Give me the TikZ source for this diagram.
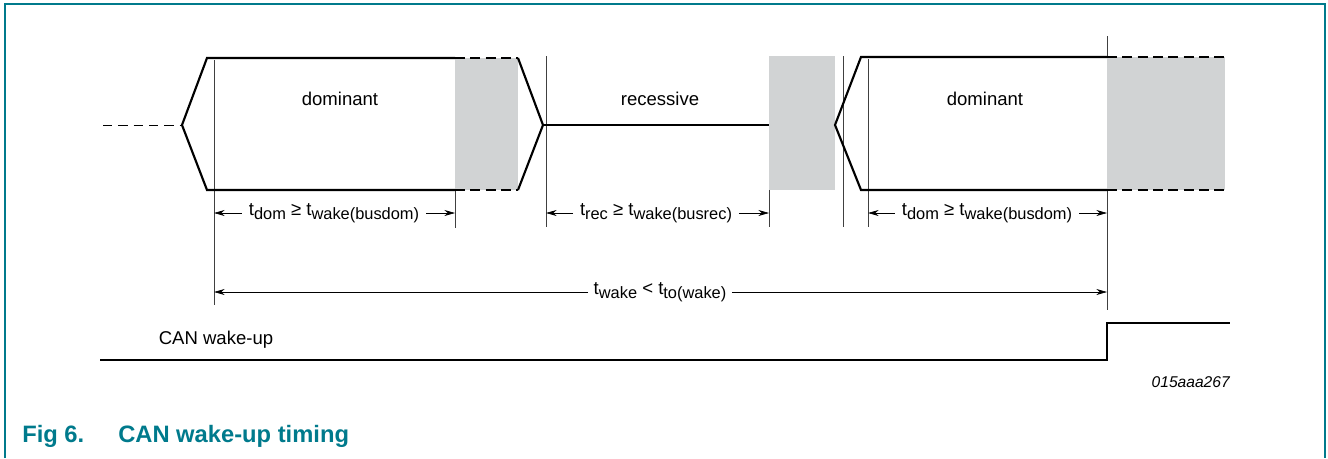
\documentclass[tikz,border=0pt]{standalone}
\usepackage{fontspec}
\setmainfont{Liberation Sans}
\usetikzlibrary{arrows.meta}
\definecolor{nxpteal}{RGB}{0,122,140}
\definecolor{busgrey}{RGB}{209,211,212}
\newcommand{\lowsub}[1]{\raisebox{-0.45ex}{\fontsize{12.3}{14}\selectfont #1}}

\begin{document}
\begin{tikzpicture}[x=0.75pt,y=-0.75pt,>={Stealth[length=8pt,width=4.5pt]}]
        \tikzset{
            bus/.style={line width=1.6pt},
            busdash/.style={bus, dash pattern=on 7.5pt off 4pt},
            greyzone/.style={fill=busgrey, draw=none},
            marker/.style={line width=0.5pt, black!75},
            dimarr/.style={->, line width=0.5pt},
            lbl/.style={font=\fontsize{13.9}{16}\selectfont, inner sep=0pt},
        }
        \useasboundingbox (0,0) rectangle (1328,458);

        % Frame
        \draw[nxpteal, line width=1.2pt] (5,458) -- (5,4) -- (1325,4) -- (1325,458);

        % Marker lines
        \coordinate (m1) at (214,305);
        \coordinate (m2) at (455,228);
        \coordinate (m3) at (546,227);
        \coordinate (m4) at (769,227);
        \coordinate (m5) at (843,227);
        \coordinate (m6) at (868,227);
        \coordinate (m7) at (1107,310);
        \draw[marker] (214,60) -- (m1);
        \draw[marker] (455,58) -- (m2);
        \draw[marker] (546,56) -- (m3);
        \draw[marker] (769,56) -- (m4);
        \draw[marker] (843,56) -- (m5);
        \draw[marker] (868,59) -- (m6);
        \draw[marker] (1107,36) -- (m7);

        % Grey zones
        \fill[greyzone] (455,58) rectangle (518,190);
        \fill[greyzone] (769,56) rectangle (835,190);
        \fill[greyzone] (1107,57) rectangle (1225,190);

        % First dominant phase
        \draw[line width=0.6pt, dash pattern=on 7pt off 4.5pt] (103,125) -- (182,125);
        \draw[bus, line join=miter] (455,58) -- (207,58) -- (182,125) -- (207,190) -- (455,190);
        \draw[busdash] (455,58) -- (518,58);
        \draw[busdash] (455,190) -- (518,190);
        \draw[bus, line join=miter] (518,58) -- (543,125) -- (518,190);
        \node[lbl] (dom1) at (340,99) {dominant};

        % Recessive phase
        \draw[line width=0.8pt] (543,125) -- (769,125);
        \node[lbl] (rec) at (660,99) {recessive};

        % Second dominant phase
        \draw[bus, line join=miter] (1107,57) -- (861,57) -- (835,125) -- (861,190) -- (1107,190);
        \draw[busdash] (1107,57) -- (1225,57);
        \draw[busdash] (1107,190) -- (1225,190);
        \node[lbl] (dom2) at (985,99) {dominant};

        % Timing arrows
        \node[lbl] (tdom1) at (334,213) {t\lowsub{dom} ≥ t\lowsub{wake(busdom)}};
        \draw[dimarr] ([xshift=-5pt]tdom1.west) -- (tdom1.west -| m1);
        \draw[dimarr] ([xshift=5pt]tdom1.east) -- (tdom1.east -| m2);

        \node[lbl] (trec) at (656,213) {t\lowsub{rec} ≥ t\lowsub{wake(busrec)}};
        \draw[dimarr] ([xshift=-5pt]trec.west) -- (trec.west -| m3);
        \draw[dimarr] ([xshift=5pt]trec.east) -- (trec.east -| m4);

        \node[lbl] (tdom2) at (987,213) {t\lowsub{dom} ≥ t\lowsub{wake(busdom)}};
        \draw[dimarr] ([xshift=-5pt]tdom2.west) -- (tdom2.west -| m6);
        \draw[dimarr] ([xshift=5pt]tdom2.east) -- (tdom2.east -| m7);

        \node[lbl] (twake) at (660,292) {t\lowsub{wake} < t\lowsub{to(wake)}};
        \draw[dimarr] ([xshift=-4pt]twake.west) -- (twake.west -| m1);
        \draw[dimarr] ([xshift=4pt]twake.east) -- (twake.east -| m7);

        % CAN wake-up signal
        \draw[bus] (100,360) -- (1107,360) -- (1107,323) -- (1230,323);
        \node[lbl] (canwake) at (216,340) {CAN wake-up};

        % Figure id and caption
        \node[lbl, anchor=east, font=\fontsize{11.7}{14}\itshape] (figid) at (1230,382) {015aaa267};
        \node[anchor=west, inner sep=0pt, nxpteal, font=\fontsize{17.8}{20}\bfseries\selectfont] (fignum) at (22,436) {Fig 6.};
        \node[anchor=west, inner sep=0pt, nxpteal, font=\fontsize{17.8}{20}\bfseries\selectfont] (figtitle) at (118,436) {CAN wake-up timing};
    \end{tikzpicture}
\end{document}
